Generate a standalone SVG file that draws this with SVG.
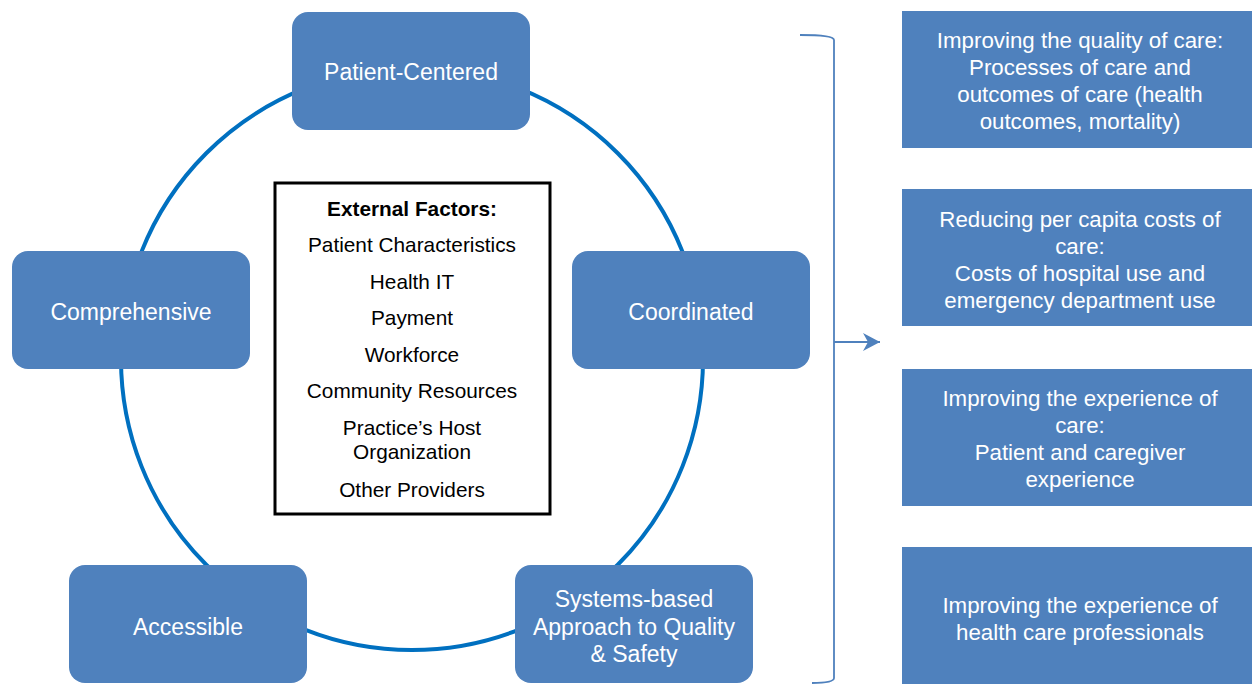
<svg xmlns="http://www.w3.org/2000/svg" width="1252" height="684" viewBox="0 0 1252 684">
<style>
.box{fill:#4F81BD}
.t{font-family:"Liberation Sans",Arial,sans-serif;fill:#fff;text-anchor:middle}
.c{font-size:23px}
.r{font-size:22.3px}
.ef{font-family:"Liberation Sans",Arial,sans-serif;fill:#000;text-anchor:middle;font-size:20.8px}
</style>
<defs>
<marker id="arr" viewBox="0 0 20 20" refX="18" refY="10" markerWidth="20" markerHeight="20" markerUnits="userSpaceOnUse" orient="auto">
<path d="M18,10 L1,1 L6,10 L1,19 Z" fill="#4F81BD"/>
</marker>
</defs>
<g id="connectors">
<circle cx="412" cy="359" r="291" fill="none" stroke="#0070C0" stroke-width="4"/>
<path d="M800,35 Q834,35 834,40 L834,678 Q834,683 812,683" fill="none" stroke="#4F81BD" stroke-width="1.8"/>
<line x1="834" y1="342" x2="880" y2="342" stroke="#4F81BD" stroke-width="1.8" marker-end="url(#arr)"/>
</g>
<g id="external-factors">
<rect x="275" y="183" width="275" height="331" fill="#fff" stroke="#000" stroke-width="3"/>
<text class="ef" x="412" y="216" font-weight="bold">External Factors:</text>
<text class="ef" x="412" y="252">Patient Characteristics</text>
<text class="ef" x="412" y="289">Health IT</text>
<text class="ef" x="412" y="325">Payment</text>
<text class="ef" x="412" y="362">Workforce</text>
<text class="ef" x="412" y="398">Community Resources</text>
<text class="ef" x="412" y="435">Practice’s Host</text>
<text class="ef" x="412" y="459">Organization</text>
<text class="ef" x="412" y="497">Other Providers</text>
</g>
<g id="patient-centered">
<rect class="box" x="292" y="12" width="238" height="118" rx="16"/>
<text class="t c" x="411" y="80">Patient-Centered</text>
</g>
<g id="comprehensive">
<rect class="box" x="12" y="251" width="238" height="118" rx="16"/>
<text class="t c" x="131" y="320">Comprehensive</text>
</g>
<g id="coordinated">
<rect class="box" x="572" y="251" width="238" height="118" rx="16"/>
<text class="t c" x="691" y="320">Coordinated</text>
</g>
<g id="accessible">
<rect class="box" x="69" y="565" width="238" height="118" rx="16"/>
<text class="t c" x="188" y="635">Accessible</text>
</g>
<g id="systems-based">
<rect class="box" x="515" y="565" width="238" height="118" rx="16"/>
<text class="t c" x="634" y="607">Systems-based</text>
<text class="t c" x="634" y="635">Approach to Quality</text>
<text class="t c" x="634" y="662">&amp; Safety</text>
</g>
<g id="quality">
<rect class="box" x="902" y="11" width="350" height="137"/>
<text class="t r" x="1080" y="48">Improving the quality of care:</text>
<text class="t r" x="1080" y="75">Processes of care and</text>
<text class="t r" x="1080" y="102">outcomes of care (health</text>
<text class="t r" x="1080" y="129">outcomes, mortality)</text>
</g>
<g id="costs">
<rect class="box" x="902" y="189" width="350" height="137"/>
<text class="t r" x="1080" y="227">Reducing per capita costs of</text>
<text class="t r" x="1080" y="254">care:</text>
<text class="t r" x="1080" y="281">Costs of hospital use and</text>
<text class="t r" x="1080" y="308">emergency department use</text>
</g>
<g id="experience-care">
<rect class="box" x="902" y="369" width="350" height="137"/>
<text class="t r" x="1080" y="406">Improving the experience of</text>
<text class="t r" x="1080" y="433">care:</text>
<text class="t r" x="1080" y="460">Patient and caregiver</text>
<text class="t r" x="1080" y="487">experience</text>
</g>
<g id="experience-professionals">
<rect class="box" x="902" y="547" width="350" height="137"/>
<text class="t r" x="1080" y="613">Improving the experience of</text>
<text class="t r" x="1080" y="640">health care professionals</text>
</g>
</svg>
